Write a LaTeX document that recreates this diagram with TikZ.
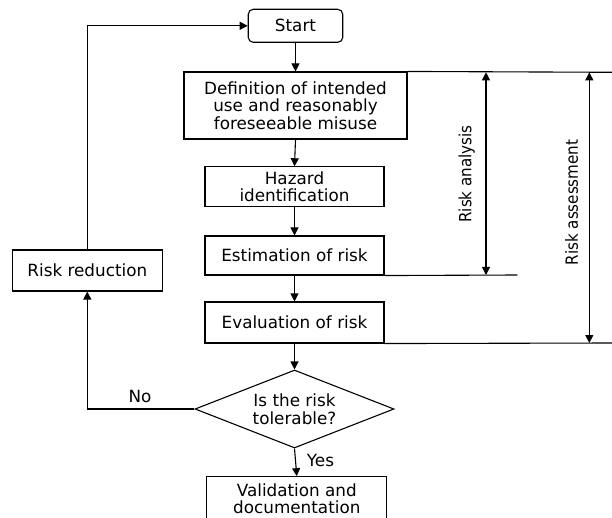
\documentclass[tikz,border=0pt]{standalone}
\usepackage{fontspec}
\setmainfont{DejaVu Sans}
\newfontfamily\condfont{DejaVu Sans Condensed}
\usetikzlibrary{arrows.meta,shapes.geometric}
\tikzset{
  box/.style={draw, line width=1.1pt, align=center, inner sep=0pt, font=\fontsize{16.8}{17.6}\selectfont},
  lbl/.style={inner sep=0pt, font=\fontsize{16.8}{17.6}\selectfont},
  vlbl/.style={inner sep=0pt, rotate=90, font=\condfont\fontsize{16.8}{17.6}\selectfont},
  arr/.style={line width=1.1pt, -{Triangle[length=8pt,width=8pt]}},
  darr/.style={line width=1.1pt, {Triangle[length=8pt,width=8pt]}-{Triangle[length=8pt,width=8pt]}},
  ln/.style={line width=1.1pt}
}
\begin{document}
\begin{tikzpicture}[x=1pt,y=-1pt]
\useasboundingbox (0,0) rectangle (612,518);
\node[box, rounded corners=5pt, minimum width=94.5pt, minimum height=33pt] (start) at (295.5,25.8) {Start};
\node[box, minimum width=223pt, minimum height=67pt] (def) at (295.5,105.5) {Definition of intended\\use and reasonably\\foreseeable misuse};
\node[box, minimum width=179pt, minimum height=40pt] (haz) at (294.5,186.8) {Hazard\\identification};
\node[box, minimum width=179pt, minimum height=39pt] (est) at (294.5,255.5) {Estimation of risk};
\node[box, minimum width=179pt, minimum height=41pt] (eval) at (294.5,322.5) {Evaluation of risk};
\node[box, diamond, aspect=2.55, minimum width=199pt, minimum height=78pt] (dia) at (294.5,409) {Is the risk\\tolerable?};
\node[box, minimum width=150pt, minimum height=41pt] (rr) at (87.3,270.5) {Risk reduction};
\node[box, minimum width=180pt, minimum height=44pt] (val) at (296.8,498.7) {Validation and\\documentation};

\coordinate (topR) at (612,72.3);
\coordinate (estR) at (517.3,275);
\coordinate (evalR) at (612,343);
\coordinate (raT) at (486,72.3);
\coordinate (raB) at (486,275);
\coordinate (rsT) at (589.3,72.3);
\coordinate (rsB) at (589.3,343);

\draw[arr] (start.south) -- (def.north);
\draw[arr] (def.south) -- (haz.north);
\draw[arr] (haz.south) -- (est.north);
\draw[arr] (est.south) -- (eval.north);
\draw[arr] (eval.south) -- (dia.north);
\draw[arr] (dia.south) -- (val.north);
\draw[arr] (dia.west) -| (rr.south);
\draw[arr] (rr.north) |- (start.west);

\draw[ln] (def.north east) -- (topR);
\draw[ln] (est.south east) -- (estR);
\draw[ln] (eval.south east) -- (evalR);
\draw[darr] (raT) -- (raB);
\draw[darr] (rsT) -- (rsB);

\node[vlbl] (ra) at (466.7,174) {Risk analysis};
\node[vlbl] (rs) at (571.7,202.5) {Risk assessment};
\node[lbl] (no) at (140,396) {No};
\node[lbl] (yes) at (320.5,460) {Yes};
\end{tikzpicture}
\end{document}
